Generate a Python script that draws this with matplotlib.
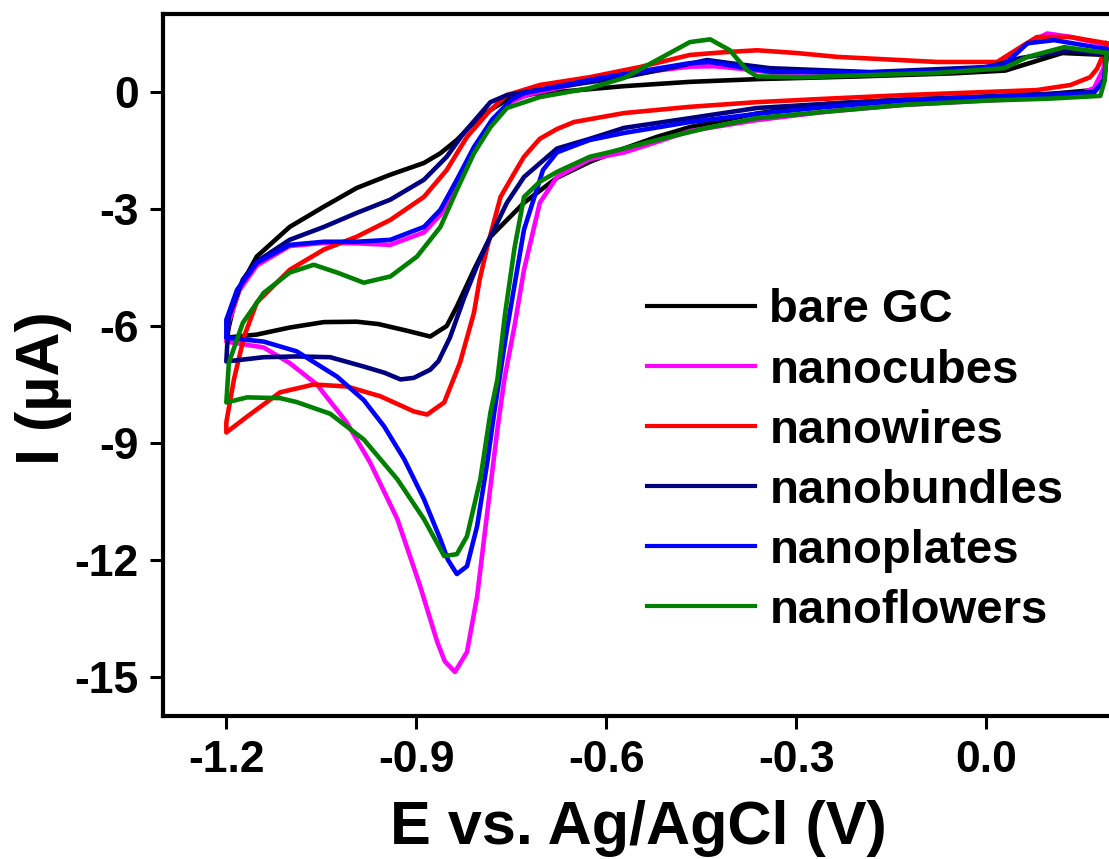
import numpy as np
import matplotlib.pyplot as plt

plt.rcParams['font.family'] = ['Liberation Sans', 'DejaVu Sans']
plt.rcParams['font.weight'] = 'bold'

labels = ['bare GC', 'nanocubes', 'nanowires', 'nanobundles', 'nanoplates', 'nanoflowers']
colors = ['#000000', '#ff00ff', '#ff0000', '#000080', '#0000ff', '#008000']

# cathodic sweep (0.19 V -> -1.2 V) then anodic sweep back (-1.2 V -> 0.19 V)
bare_E = [0.19, 0.185, 0.17, 0.1, 0.0, -0.13, -0.25, -0.362, -0.468, -0.52, -0.572, -0.626, -0.678,
          -0.73, -0.783, -0.809, -0.836, -0.852, -0.878, -0.915, -0.96, -0.994, -1.046, -1.1, -1.152, -1.2,
          -1.19, -1.178, -1.152, -1.1, -1.046, -0.994, -0.941, -0.888, -0.862, -0.836, -0.81, -0.783,
          -0.757, -0.716, -0.678, -0.572, -0.468, -0.362, -0.2, -0.05, 0.03, 0.07, 0.12, 0.19]
bare_I = [0.95, 0.3, 0.05, -0.05, -0.12, -0.2, -0.3, -0.55, -0.9, -1.15, -1.45, -1.79, -2.2,
          -2.84, -3.71, -4.56, -5.5, -6.0, -6.27, -6.12, -5.95, -5.89, -5.9, -6.04, -6.22, -6.3,
          -5.6, -4.99, -4.22, -3.46, -2.94, -2.46, -2.12, -1.82, -1.57, -1.23, -0.8, -0.46,
          -0.2, -0.05, 0.0, 0.15, 0.26, 0.33, 0.4, 0.48, 0.55, 0.75, 1.0, 0.95]

cubes_E = [0.19, 0.185, 0.17, 0.14, 0.0, -0.13, -0.25, -0.362, -0.468, -0.52, -0.572, -0.626, -0.678,
           -0.705, -0.73, -0.745, -0.761, -0.772, -0.788, -0.804, -0.82, -0.839, -0.855, -0.867, -0.894,
           -0.93, -0.973, -1.01, -1.057, -1.1, -1.141, -1.2,
           -1.196, -1.18, -1.152, -1.1, -1.046, -0.994, -0.941, -0.888, -0.862, -0.836, -0.809, -0.78,
           -0.75, -0.72, -0.626, -0.52, -0.468, -0.43, -0.39, -0.34, -0.2, -0.05, 0.02, 0.06, 0.096, 0.13, 0.19]
cubes_I = [1.2, 0.6, 0.1, -0.1, -0.22, -0.33, -0.5, -0.72, -1.0, -1.28, -1.55, -1.72, -2.18,
           -2.84, -4.56, -6.0, -7.37, -8.65, -10.78, -12.93, -14.36, -14.87, -14.6, -14.1, -12.67,
           -10.95, -9.5, -8.47, -7.5, -6.95, -6.55, -6.4,
           -5.9, -5.1, -4.45, -3.95, -3.87, -3.88, -3.92, -3.6, -3.15, -2.35, -1.5, -0.75,
           -0.25, -0.05, 0.28, 0.55, 0.65, 0.66, 0.6, 0.5, 0.5, 0.55, 0.68, 1.2, 1.5, 1.42, 1.2]

wires_E = [0.19, 0.183, 0.175, 0.164, 0.133, 0.08, -0.13, -0.25, -0.362, -0.468, -0.572, -0.651, -0.678,
           -0.705, -0.73, -0.746, -0.767, -0.788, -0.8, -0.809, -0.831, -0.856, -0.883, -0.904, -0.957,
           -1.01, -1.062, -1.115, -1.167, -1.2,
           -1.2, -1.188, -1.172, -1.152, -1.1, -1.046, -0.994, -0.941, -0.888, -0.852, -0.82, -0.783,
           -0.757, -0.705, -0.626, -0.547, -0.468, -0.414, -0.362, -0.3, -0.235, -0.077, 0.017, 0.054,
           0.08, 0.133, 0.19]
wires_I = [1.25, 0.9, 0.6, 0.38, 0.18, 0.05, -0.08, -0.17, -0.26, -0.38, -0.54, -0.77, -0.95,
           -1.2, -1.66, -2.1, -2.69, -3.97, -4.81, -5.66, -6.94, -7.96, -8.27, -8.19, -7.8,
           -7.55, -7.5, -7.7, -8.32, -8.73,
           -8.47, -7.37, -6.27, -5.4, -4.56, -4.04, -3.71, -3.28, -2.69, -2.0, -1.15, -0.46,
           -0.08, 0.18, 0.38, 0.64, 0.95, 1.02, 1.07, 1.0, 0.9, 0.77, 0.77, 1.15,
           1.41, 1.41, 1.25]

bundles_E = [0.19, 0.186, 0.17, 0.1, 0.0, -0.13, -0.25, -0.362, -0.468, -0.572, -0.626, -0.678,
             -0.73, -0.757, -0.783, -0.804, -0.825, -0.847, -0.865, -0.878, -0.904, -0.925, -0.95,
             -0.983, -1.036, -1.089, -1.141, -1.2,
             -1.198, -1.196, -1.174, -1.152, -1.1, -1.046, -0.994, -0.941, -0.888, -0.852, -0.825,
             -0.783, -0.757, -0.678, -0.572, -0.493, -0.441, -0.405, -0.341, -0.183, 0.002, 0.054, 0.133, 0.19]
bundles_I = [0.95, 0.3, 0.0, -0.05, -0.12, -0.2, -0.3, -0.41, -0.67, -0.92, -1.2, -1.45,
             -2.18, -2.84, -3.71, -4.45, -5.3, -6.3, -6.9, -7.12, -7.33, -7.37, -7.2,
             -7.04, -6.8, -6.78, -6.8, -6.91,
             -6.3, -5.76, -4.81, -4.35, -3.79, -3.46, -3.1, -2.76, -2.25, -1.66, -1.05,
             -0.26, -0.08, 0.13, 0.38, 0.64, 0.82, 0.74, 0.61, 0.51, 0.64, 0.87, 1.07, 0.95]

plates_E = [0.19, 0.186, 0.17, 0.1, 0.0, -0.13, -0.25, -0.362, -0.468, -0.572, -0.626, -0.651, -0.678,
            -0.70, -0.73, -0.757, -0.769, -0.777, -0.788, -0.804, -0.82, -0.836, -0.85, -0.862, -0.888,
            -0.919, -0.951, -0.983, -1.025, -1.089, -1.141, -1.2,
            -1.2, -1.183, -1.152, -1.1, -1.046, -0.994, -0.941, -0.888, -0.862, -0.836, -0.809, -0.78,
            -0.75, -0.73, -0.626, -0.52, -0.468, -0.436, -0.389, -0.34, -0.183, -0.05, 0.028, 0.065, 0.107, 0.19]
plates_I = [1.1, 0.3, -0.02, -0.08, -0.13, -0.22, -0.38, -0.56, -0.77, -1.05, -1.23, -1.38, -1.55,
            -2.0, -3.53, -6.1, -7.37, -8.22, -9.5, -11.13, -12.16, -12.36, -12.0, -11.47, -10.44,
            -9.42, -8.57, -7.9, -7.3, -6.65, -6.4, -6.3,
            -5.84, -5.07, -4.38, -3.92, -3.84, -3.84, -3.79, -3.46, -3.02, -2.25, -1.41, -0.7,
            -0.2, -0.03, 0.31, 0.6, 0.74, 0.77, 0.64, 0.52, 0.5, 0.55, 0.69, 1.25, 1.33, 1.1]

flowers_E = [0.19, 0.187, 0.18, 0.1, 0.0, -0.13, -0.25, -0.362, -0.441, -0.52, -0.599, -0.626, -0.678,
             -0.705, -0.73, -0.745, -0.76, -0.772, -0.783, -0.799, -0.82, -0.836, -0.856, -0.888,
             -0.93, -0.983, -1.036, -1.089, -1.115, -1.167, -1.2,
             -1.196, -1.174, -1.141, -1.1, -1.062, -1.025, -0.983, -0.941, -0.899, -0.862, -0.836,
             -0.809, -0.783, -0.757, -0.705, -0.626, -0.572, -0.52, -0.468, -0.436, -0.405, -0.378,
             -0.362, -0.288, -0.077, 0.028, 0.065, 0.123, 0.19]
flowers_I = [1.0, 0.3, -0.1, -0.17, -0.22, -0.33, -0.5, -0.67, -0.92, -1.23, -1.56, -1.66, -2.05,
             -2.3, -2.69, -4.0, -5.7, -7.37, -8.22, -9.93, -11.39, -11.85, -11.9, -10.95,
             -9.93, -8.91, -8.25, -7.95, -7.85, -7.83, -7.96,
             -6.94, -5.92, -5.15, -4.63, -4.43, -4.63, -4.89, -4.73, -4.22, -3.46, -2.51,
             -1.57, -0.9, -0.41, -0.13, 0.1, 0.36, 0.82, 1.28, 1.35, 1.07, 0.56,
             0.4, 0.38, 0.49, 0.61, 0.9, 1.15, 1.0]

curves = [(bare_E, bare_I), (cubes_E, cubes_I), (wires_E, wires_I),
          (bundles_E, bundles_I), (plates_E, plates_I), (flowers_E, flowers_I)]

fig = plt.figure(figsize=(11.09, 8.59), dpi=100)
ax = fig.add_axes([163 / 1109, 143 / 859, 950 / 1109, 702 / 859])

for (E, I), lab, c in zip(curves, labels, colors):
    ax.plot(E, I, color=c, lw=3.3, label=lab, solid_joinstyle='round')

ax.set_xlim(-1.3, 0.2)
ax.set_ylim(-16, 2)
ax.set_xticks([-1.2, -0.9, -0.6, -0.3, 0.0])
ax.set_xticklabels(['-1.2', '-0.9', '-0.6', '-0.3', '0.0'])
ax.set_yticks([0, -3, -6, -9, -12, -15])
ax.set_yticklabels(['0', '-3', '-6', '-9', '-12', '-15'])

for s in ax.spines.values():
    s.set_linewidth(3)
ax.tick_params(direction='out', length=9.5, width=2.2, labelsize=32, pad=8)

ax.set_xlabel('E vs. Ag/AgCl (V)', fontsize=44, fontweight='bold')
ax.set_ylabel('I (\u00b5A)', fontsize=44, fontweight='bold')
ax.xaxis.set_label_coords(0.5, -0.12)
ax.yaxis.set_label_coords(-0.096, 0.467)

leg = ax.legend(loc='upper left', bbox_to_anchor=(0.509, 0.609), frameon=False,
                fontsize=34, handlelength=2.3, handletextpad=0.3, labelspacing=0.34,
                borderpad=0, borderaxespad=0)
for line in leg.get_lines():
    line.set_linewidth(3)

fig.savefig('out.png', dpi=100)
